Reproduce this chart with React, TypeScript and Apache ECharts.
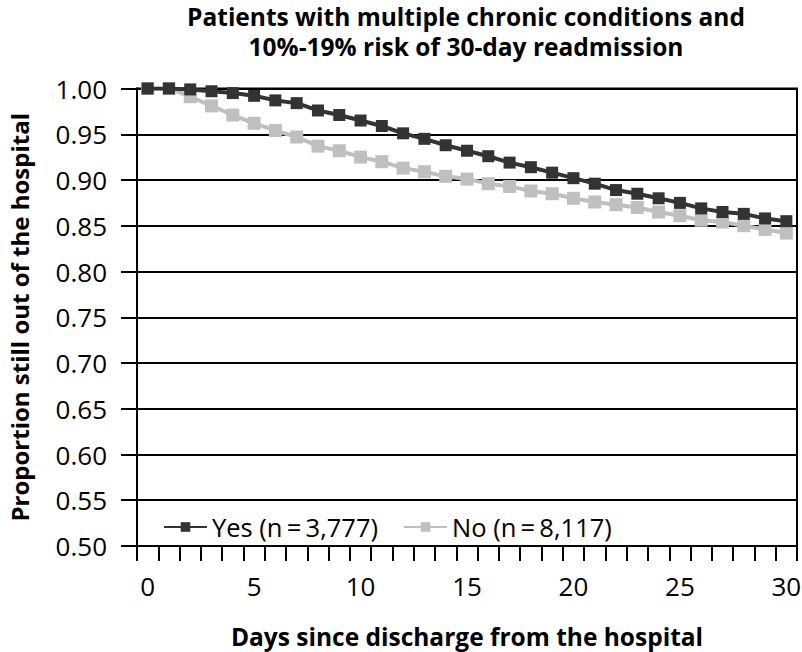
import React, { useEffect, useRef } from "react";
import * as echarts from "echarts";

const days: string[] = Array.from({ length: 31 }, (_, i) => String(i));
const yesValues = [1.0, 1.0, 0.999, 0.997, 0.995, 0.992, 0.987, 0.984, 0.976, 0.971, 0.965, 0.959, 0.951, 0.945, 0.938, 0.932, 0.926, 0.919, 0.914, 0.908, 0.902, 0.896, 0.889, 0.885, 0.88, 0.875, 0.869, 0.865, 0.863, 0.858, 0.855];
const noValues = [1.0, 1.0, 0.991, 0.981, 0.971, 0.962, 0.954, 0.947, 0.937, 0.932, 0.925, 0.92, 0.913, 0.909, 0.904, 0.901, 0.896, 0.893, 0.888, 0.885, 0.88, 0.876, 0.873, 0.87, 0.865, 0.861, 0.856, 0.854, 0.85, 0.846, 0.842];
const yesName = "Yes (n\u2009=\u20093,777)";
const noName = "No (n\u2009=\u20098,117)";
const titleText = "Patients with multiple chronic conditions and\n10%-19% risk of 30-day readmission";
const xName = "Days since discharge from the hospital";
const yName = "Proportion still out of the hospital";

const FONT = "Open Sans";

export default function App() {
  const ref = useRef<HTMLDivElement>(null);
  useEffect(() => {
    if (!ref.current) return;
    const chart = echarts.init(ref.current, null, { renderer: "svg" });
    chart.setOption({
      animation: false,
      backgroundColor: "#fff",
      title: {
        text: titleText,
        left: 466,
        top: 1,
        padding: 0,
        textAlign: "center",
        textStyle: { fontFamily: FONT, fontWeight: "bold", fontSize: 24.5, lineHeight: 30, color: "#000" },
      },
      legend: {
        left: 158,
        top: 509,
        itemWidth: 43,
        itemHeight: 12,
        itemGap: 25,
        data: [yesName, noName],
        textStyle: { fontFamily: FONT, fontSize: 25.5, color: "#000" },
      },
      grid: {
        left: 137,
        right: 5,
        top: 88.5,
        bottom: 106,
        show: true,
        borderColor: "#000",
        borderWidth: 2,
        containLabel: false,
        outerBoundsMode: "none",
      },
      xAxis: {
        type: "category",
        data: days,
        boundaryGap: true,
        name: xName,
        nameLocation: "middle",
        nameGap: 78,
        nameTextStyle: { fontFamily: FONT, fontWeight: "bold", fontSize: 24.5, color: "#000" },
        axisLine: { lineStyle: { color: "#000", width: 2 } },
        axisTick: { show: true, interval: 0, length: 15, lineStyle: { color: "#000", width: 2 } },
        axisLabel: { interval: 4, fontFamily: FONT, fontSize: 26, color: "#000", margin: 27 },
        splitLine: { show: false },
      },
      yAxis: {
        type: "value",
        min: 0.5,
        max: 1.0,
        interval: 0.05,
        name: yName,
        nameLocation: "middle",
        nameGap: 105,
        nameRotate: 90,
        nameTextStyle: { fontFamily: FONT, fontWeight: "bold", fontSize: 24, lineHeight: 26, color: "#000" },
        axisLine: { show: true, lineStyle: { color: "#000", width: 2 } },
        axisTick: { show: true, length: 16, lineStyle: { color: "#000", width: 2 } },
        axisLabel: {
          fontFamily: FONT,
          fontSize: 26,
          color: "#000",
          margin: 30,
          formatter: (v: number) => v.toFixed(2),
        },
        splitLine: { show: true, lineStyle: { color: "#000", width: 2 } },
      },
      series: [
        {
          name: noName,
          type: "line",
          data: noValues,
          symbol: "rect",
          symbolSize: 13,
          color: "#bfbfbf",
          lineStyle: { color: "#bfbfbf", width: 4 },
          itemStyle: { color: "#bfbfbf" },
          z: 2,
        },
        {
          name: yesName,
          type: "line",
          data: yesValues,
          symbol: "rect",
          symbolSize: 12,
          color: "#333333",
          lineStyle: { color: "#333333", width: 4 },
          itemStyle: { color: "#333333" },
          z: 3,
        },
      ],
    });
    return () => chart.dispose();
  }, []);
  return <div ref={ref} style={{ position: "fixed", left: 0, top: 0, width: 802, height: 652 }} />;
}
